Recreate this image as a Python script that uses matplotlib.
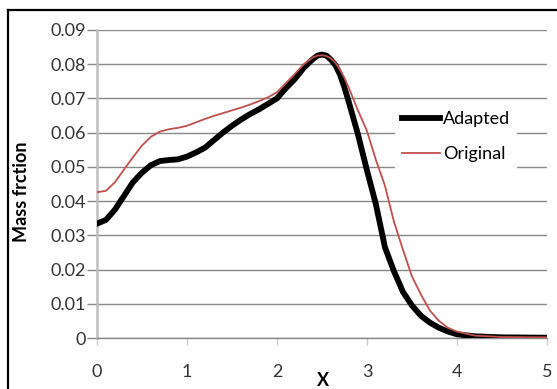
import matplotlib
matplotlib.use('Agg')
import matplotlib.pyplot as plt
from matplotlib.lines import Line2D

# sampled profiles
x_adapted = [0.0, 0.1, 0.2, 0.3, 0.4, 0.5, 0.6, 0.7, 0.8, 0.9,
             1.0, 1.1, 1.2, 1.3, 1.4, 1.5, 1.6, 1.7, 1.8, 1.9,
             2.0, 2.1, 2.2, 2.3, 2.4, 2.45, 2.5, 2.55, 2.6, 2.65, 2.7, 2.75, 2.8, 2.9,
             3.0, 3.1, 3.2, 3.3, 3.4, 3.5, 3.6, 3.7, 3.8, 3.9,
             4.0, 4.2, 4.5, 5.0]
adapted = [0.0334, 0.0345, 0.0375, 0.0415, 0.0455, 0.0483, 0.0505, 0.0517, 0.0520, 0.0522,
           0.0530, 0.0542, 0.0556, 0.0578, 0.0600, 0.0620, 0.0638, 0.0654, 0.0668, 0.0684,
           0.0700, 0.0730, 0.0757, 0.0790, 0.0815, 0.0825, 0.0828, 0.0825, 0.0813, 0.0797, 0.0770,
           0.0732, 0.0688, 0.0595,
           0.0490, 0.0390, 0.0265, 0.0195, 0.0135, 0.0095, 0.0065, 0.0045, 0.0030, 0.0019,
           0.0011, 0.0005, 0.0002, 0.0001]

x_original = [0.0, 0.1, 0.2, 0.3, 0.4, 0.5, 0.6, 0.7, 0.8, 0.9,
              1.0, 1.1, 1.2, 1.3, 1.4, 1.5, 1.6, 1.7, 1.8, 1.9,
              2.0, 2.1, 2.2, 2.3, 2.4, 2.45, 2.5, 2.55, 2.6, 2.65, 2.7, 2.75, 2.8, 2.9,
              3.0, 3.1, 3.2, 3.3, 3.4, 3.5, 3.6, 3.7, 3.8, 3.9,
              4.0, 4.2, 4.5, 5.0]
original = [0.0426, 0.0430, 0.0455, 0.0492, 0.0528, 0.0562, 0.0588, 0.0603, 0.0610, 0.0614,
            0.0620, 0.0630, 0.0640, 0.0649, 0.0657, 0.0665, 0.0673, 0.0682, 0.0692, 0.0703,
            0.0718, 0.0745, 0.0772, 0.0800, 0.0820, 0.0825, 0.0826, 0.0824, 0.0817, 0.0804, 0.0784,
            0.0760, 0.0730, 0.0665,
            0.0605, 0.0520, 0.0445, 0.0340, 0.0258, 0.0180, 0.0127, 0.0080, 0.0050, 0.0030,
            0.0019, 0.0007, 0.0003, 0.0002]

x_ticks = [0, 1, 2, 3, 4, 5]
y_ticks = [0, 0.01, 0.02, 0.03, 0.04, 0.05, 0.06, 0.07, 0.08, 0.09]
y_ticklabels = ['0', '0.01', '0.02', '0.03', '0.04', '0.05', '0.06', '0.07', '0.08', '0.09']

plt.rcParams['font.family'] = ['Lato', 'DejaVu Sans']

fig = plt.figure(figsize=(5.57, 3.89), dpi=100)
ax = fig.add_axes([0.174, 0.131, 0.808, 0.792])

# outer frame: only left and top edges fall inside the canvas
fx, fy = 8 / 557, 1 - 10 / 389
fig.add_artist(Line2D([fx, fx], [0, fy], transform=fig.transFigure, color='black', linewidth=1.6))
fig.add_artist(Line2D([fx, 1], [fy, fy], transform=fig.transFigure, color='black', linewidth=1.6))

ax.plot(x_adapted, adapted, color='black', linewidth=4.2, label='Adapted', zorder=3,
        solid_joinstyle='round')
ax.plot(x_original, original, color='#C0504D', linewidth=1.3, label='Original', zorder=4)

ax.set_xlim(0, 5)
ax.set_ylim(0, 0.09)
ax.set_xticks(x_ticks)
ax.set_yticks(y_ticks)
ax.set_yticklabels(y_ticklabels)

ax.grid(axis='y', color='#888888', linewidth=1.0)
ax.set_axisbelow(True)
for side in ['top', 'right']:
    ax.spines[side].set_visible(False)
ax.spines['left'].set_color('#BFBFBF')
ax.spines['left'].set_linewidth(1.8)
ax.spines['bottom'].set_color('#888888')
ax.spines['bottom'].set_linewidth(1.0)

ax.tick_params(axis='y', length=7, width=1.0, color='#888888', labelsize=13,
               labelcolor='#333333', pad=1)
ax.tick_params(axis='x', length=5, width=1.0, color='#CCCCCC', labelsize=13,
               labelcolor='#333333', pad=14)

ax.set_xlabel('X', fontsize=13, fontweight='bold')
ax.xaxis.set_label_coords(0.502, -0.11)
ax.set_ylabel('Mass frction', fontsize=13, fontweight='bold')
ax.yaxis.set_label_coords(-0.148, 0.474)

leg = ax.legend(loc='upper left', bbox_to_anchor=(0.662, 0.760), fontsize=13,
                frameon=True, facecolor='white', edgecolor='none', framealpha=1,
                handlelength=2.1, handletextpad=0.17, labelspacing=1.07,
                borderpad=0.4, borderaxespad=0)
leg.get_frame().set_boxstyle('square', pad=0)

fig.savefig('out.png', dpi=100)
